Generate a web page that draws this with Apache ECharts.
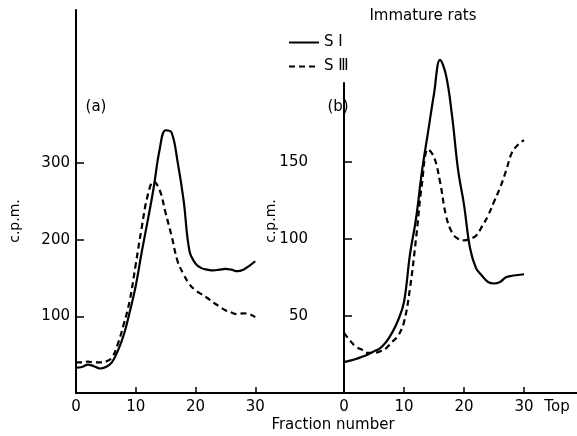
<!DOCTYPE html>
<html>
<head>
<meta charset="utf-8">
<script src="https://cdn.jsdelivr.net/npm/echarts@6/dist/echarts.min.js"></script>
<style>
  html, body { margin: 0; padding: 0; background: #fff; }
  #chart { width: 577px; height: 436px; }
</style>
</head>
<body>
<div id="chart"></div>
<script>
// ---- data ----
const fractions = [0,1,2,3,4,5,6,7,8,9,10,11,12,13,14,15,16,17,18,19,20,21,22,23,24,25,26,27,28,29,30];
// Panel (a)
const aS1 = [33,34,37,35,32,34,40,55,76,106,140,184,225,268,318,343,340,302,252,185,169,163,161,160,161,162,161,159,161,166,172];
const aS3 = [40,40,41,40,40,41,46,64,90,121,168,216,258,276,265,235,205,172,155,142,134,129,124,118,113,108,105,103,104,103,99];
// Panel (b)
const bS1 = [20,21,22,23.5,25,27,29,33,39,47,59,90,113,144,169,194,216,206,180,145,122,94,81,76,72,71,72,75,76,76.5,77];
const bS3 = [39,34,30,28,26,26,27,29,33,37,46,68,100,136,158,153,137,115,104,100,99,100,102,108,115,124,133,144,156,161,164];
// tick labels
const aXTicks = [0,10,20,30];
const aYTicks = [100,200,300];
const bXTicks = [0,10,20,30];
const bYTicks = [50,100,150];
const topLabelPos = 35.5;
const seriesNames = ['S \u2160', 'S \u2162'];

const FONT = 'DejaVu Sans';
const toPairs = (xs, ys) => xs.map((x, i) => [x, ys[i]]);

const axisLine = { show: true, lineStyle: { color: '#000', width: 2 } };
const labelStyle = { color: '#000', fontSize: 15, fontFamily: FONT };

const chart = echarts.init(document.getElementById('chart'), null, { renderer: 'canvas' });
chart.setOption({
  animation: false,
  backgroundColor: '#fff',
  grid: [
    { left: 76, top: 10, width: 239, height: 383 },
    { left: 314, top: 83, width: 263, height: 310 }
  ],
  xAxis: [
    {
      gridIndex: 0, type: 'value', min: 0, max: 40,
      axisLine: axisLine, splitLine: { show: false },
      axisTick: { show: true, inside: true, length: 6, customValues: [10,20,30], lineStyle: { color: '#000', width: 1.5 } },
      axisLabel: Object.assign({ customValues: aXTicks, margin: 7 }, labelStyle)
    },
    {
      gridIndex: 1, type: 'value', min: -5, max: 38.83,
      axisLine: axisLine, splitLine: { show: false },
      axisTick: { show: true, inside: true, length: 6, customValues: bXTicks, lineStyle: { color: '#000', width: 1.5 } },
      axisLabel: Object.assign({ customValues: bXTicks.concat([topLabelPos]), margin: 7,
        formatter: v => (v === topLabelPos ? 'Top' : String(v)) }, labelStyle)
    }
  ],
  yAxis: [
    {
      gridIndex: 0, type: 'value', min: 0, max: 500,
      axisLine: axisLine, splitLine: { show: false },
      axisTick: { show: true, inside: true, length: 8, customValues: aYTicks, lineStyle: { color: '#000', width: 1.5 } },
      axisLabel: Object.assign({ customValues: aYTicks, margin: 6 }, labelStyle)
    },
    {
      gridIndex: 1, type: 'value', min: 0, max: 201,
      axisLine: axisLine, splitLine: { show: false },
      axisTick: { show: true, inside: true, length: 8, customValues: bYTicks, lineStyle: { color: '#000', width: 1.5 } },
      axisLabel: Object.assign({ customValues: bYTicks, margin: 6 }, labelStyle)
    }
  ],
  legend: {
    orient: 'vertical', left: 283, top: 30,
    itemWidth: 30, itemHeight: 12, itemGap: 9,
    data: seriesNames,
    itemStyle: { opacity: 0 },
    textStyle: { color: '#000', fontSize: 15, fontFamily: FONT }
  },
  graphic: [
    { type: 'text', x: 15, y: 221, rotation: Math.PI / 2,
      style: { text: 'c.p.m.', fill: '#000', font: '14px ' + FONT, align: 'center', verticalAlign: 'middle' } },
    { type: 'text', x: 271, y: 221, rotation: Math.PI / 2,
      style: { text: 'c.p.m.', fill: '#000', font: '14px ' + FONT, align: 'center', verticalAlign: 'middle' } },
    { type: 'text', x: 96, y: 107,
      style: { text: '(a)', fill: '#000', font: '15px ' + FONT, align: 'center', verticalAlign: 'middle' } },
    { type: 'text', x: 338, y: 107,
      style: { text: '(b)', fill: '#000', font: '15px ' + FONT, align: 'center', verticalAlign: 'middle' } },
    { type: 'text', x: 423, y: 16,
      style: { text: 'Immature rats', fill: '#000', font: '15px ' + FONT, align: 'center', verticalAlign: 'middle' } },
    { type: 'text', x: 333, y: 425,
      style: { text: 'Fraction number', fill: '#000', font: '15px ' + FONT, align: 'center', verticalAlign: 'middle' } }
  ],
  series: [
    { name: seriesNames[0], type: 'line', xAxisIndex: 0, yAxisIndex: 0, data: toPairs(fractions, aS1),
      smooth: 0.4, symbol: 'none', clip: false, lineStyle: { color: '#000', width: 2.2, type: 'solid' }, itemStyle: { color: '#000' } },
    { name: seriesNames[1], type: 'line', xAxisIndex: 0, yAxisIndex: 0, data: toPairs(fractions, aS3),
      smooth: 0.4, symbol: 'none', clip: false, lineStyle: { color: '#000', width: 2.2, type: [6, 4] }, itemStyle: { color: '#000' } },
    { name: seriesNames[0], type: 'line', xAxisIndex: 1, yAxisIndex: 1, data: toPairs(fractions, bS1),
      smooth: 0.4, symbol: 'none', clip: false, lineStyle: { color: '#000', width: 2.2, type: 'solid' }, itemStyle: { color: '#000' } },
    { name: seriesNames[1], type: 'line', xAxisIndex: 1, yAxisIndex: 1, data: toPairs(fractions, bS3),
      smooth: 0.4, symbol: 'none', clip: false, lineStyle: { color: '#000', width: 2.2, type: [6, 4] }, itemStyle: { color: '#000' } }
  ]
});
</script>
</body>
</html>
